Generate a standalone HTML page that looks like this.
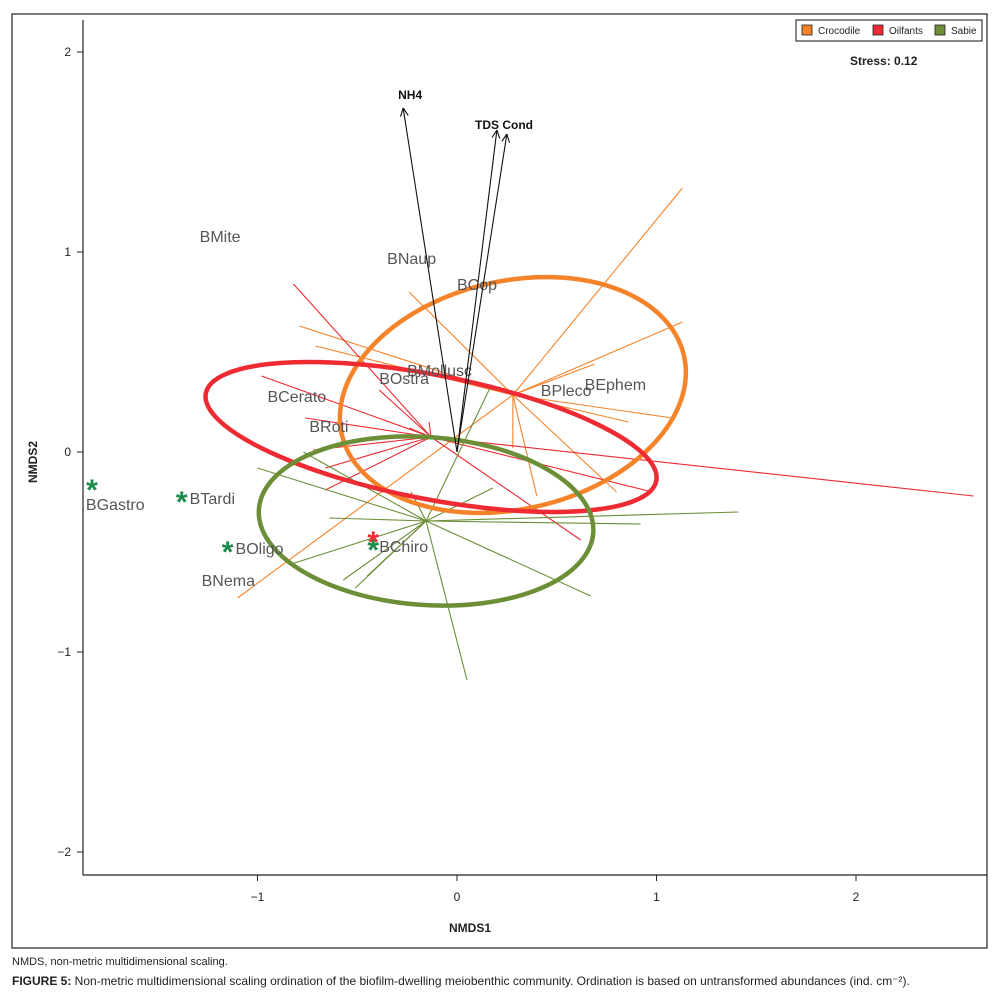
<!DOCTYPE html>
<html><head><meta charset="utf-8"><style>
body{margin:0;background:#fff;width:996px;height:999px;overflow:hidden;font-family:"Liberation Sans",sans-serif}
svg{position:absolute;left:0;top:0}
.cap{position:absolute;left:12px;font-size:11px;color:#222;white-space:nowrap}
</style></head><body>
<svg width="996" height="999" id="chart">
<rect x="12" y="14" width="975" height="934" fill="none" stroke="#222" stroke-width="1.2"/>
<g id="plot"></g>
</svg>
<div class="cap" style="top:956px">NMDS, non-metric multidimensional scaling.</div>
<div class="cap" style="top:974px;font-size:12px"><b>FIGURE 5:</b> Non-metric multidimensional scaling ordination of the biofilm-dwelling meiobenthic community. Ordination is based on untransformed abundances (ind. cm⁻²).</div>
<script>
const xTicks=[-1,0,1,2];
const yTicks=[2,1,0,-1,-2];
const groups=['Crocodile','Oilfants','Sabie'];
const groupColors=['#f5832a','#ee2a33','#6b8e37'];
const centroids=[[0.28,0.285],[-0.13,0.075],[-0.155,-0.345]];
const ellipseRadii=[[0.88,0.57,-13],[1.15,0.31,11],[0.84,0.42,4]];
const crocEnds=[[1.13,1.32],[1.13,0.65],[-0.79,0.63],[-0.71,0.53],[-0.24,0.8],[1.08,0.17],[0.86,0.15],[0.28,0.02],[0.40,-0.22],[0.80,-0.2],[0.69,0.44],[-1.1,-0.73]];
const oliEnds=[[-0.82,0.84],[-0.98,0.38],[-0.76,0.17],[-0.39,0.31],[-0.72,0.01],[-0.66,-0.08],[-0.66,-0.19],[2.59,-0.22],[0.62,-0.44],[0.98,-0.2],[-0.14,0.15],[-0.24,0.12]];
const sabEnds=[[0.05,-1.14],[0.67,-0.72],[1.41,-0.3],[0.92,-0.36],[-0.57,-0.64],[-0.83,-0.56],[-1.0,-0.08],[-0.77,0],[-0.64,-0.33],[0.18,-0.18],[0.17,0.33],[-0.51,-0.68],[-0.23,-0.2],[-0.45,-0.62]];
const vectors=['NH4','TDS','Cond'];
const vecEnds=[[-0.27,1.72],[0.2,1.61],[0.25,1.59]];
const species=['BMite','BNaup','BCop','BMollusc','BOstra','BCerato','BRoti','BPleco','BEphem','BGastro','BTardi','BOligo','BChiro','BNema'];
const speciesPos=[[-1.29,1.05],[-0.35,0.94],[0.0,0.81],[-0.25,0.38],[-0.39,0.34],[-0.95,0.25],[-0.74,0.1],[0.42,0.28],[0.64,0.31],[-1.86,-0.29],[-1.34,-0.26],[-1.11,-0.51],[-0.39,-0.50],[-1.28,-0.67]];
const stars=[[-1.83,-0.17,2],[-1.38,-0.23,2],[-1.15,-0.48,2],[-0.42,-0.47,2],[-0.42,-0.43,1]];
const X=v=>457+v*199.5, Y=v=>452-v*200;
const g=document.getElementById('plot');const NS='http://www.w3.org/2000/svg';
function mk(t,a,p){const e=document.createElementNS(NS,t);for(const k in a)e.setAttribute(k,a[k]);(p||g).appendChild(e);return e;}
let e=mk('line',{x1:83,y1:20,x2:83,y2:875,stroke:'#222','stroke-width':1.2});


e=mk('line',{x1:83,y1:875,x2:987,y2:875,stroke:'#222','stroke-width':1.2});


xTicks.forEach(t=>{mk('line',{x1:X(t),x2:X(t),y1:875,y2:881,stroke:'#222'});
 e=mk('text',{x:X(t),y:901,'text-anchor':'middle','font-size':12,fill:'#222'});e.textContent=t<0?'−'+(-t):t;
 
 });
yTicks.forEach(t=>{mk('line',{x1:77,x2:83,y1:Y(t),y2:Y(t),stroke:'#222'});
 e=mk('text',{x:71,y:Y(t)+4,'text-anchor':'end','font-size':12,fill:'#222'});e.textContent=t<0?'−'+(-t):t;
 
 });
e=mk('text',{x:470,y:932,'text-anchor':'middle','font-size':12,'font-weight':'bold',fill:'#222'});e.textContent='NMDS1';


e=mk('text',{x:0,y:0,'text-anchor':'middle','font-size':12,'font-weight':'bold',fill:'#222',transform:'translate(37,462) rotate(-90)'});e.textContent='NMDS2';


[crocEnds,oliEnds,sabEnds].forEach((ends,i)=>{ends.forEach(p=>{
 e=mk('line',{x1:X(centroids[i][0]),y1:Y(centroids[i][1]),x2:X(p[0]),y2:Y(p[1]),stroke:groupColors[i],'stroke-width':1.1});
 
 });});
centroids.forEach((c,i)=>{const r=ellipseRadii[i];
 e=mk('ellipse',{cx:X(c[0]),cy:Y(c[1]),rx:r[0]*199.5,ry:r[1]*200,fill:'none',stroke:groupColors[i],'stroke-width':4.5,transform:`rotate(${r[2]} ${X(c[0])} ${Y(c[1])})`});
 
 });
species.forEach((s,i)=>{e=mk('text',{x:X(speciesPos[i][0]),y:Y(speciesPos[i][1]),'font-size':16,fill:'#555'});e.textContent=s;
 
 });
stars.forEach(s=>{e=mk('text',{x:X(s[0]),y:Y(s[1])+14,'text-anchor':'middle','font-size':30,'font-weight':'bold',fill:s[2]==2?'#1a8a4a':'#ee2a33'});e.textContent='*';
 
 });
vecEnds.forEach((v,i)=>{const x2=X(v[0]),y2=Y(v[1]),x1=X(0),y1=Y(0);
 e=mk('line',{x1,y1,x2,y2,stroke:'#111','stroke-width':1.1});
 
 
 const a=Math.atan2(y2-y1,x2-x1);
 [0.45,-0.45].forEach(d=>mk('line',{x1:x2,y1:y2,x2:x2-9*Math.cos(a+d),y2:y2-9*Math.sin(a+d),stroke:'#111','stroke-width':1.1}));});
e=mk('text',{x:X(vecEnds[0][0])-5,y:Y(vecEnds[0][1])-9,'font-size':12,'font-weight':'bold',fill:'#111'});e.textContent='NH4';


e=mk('text',{x:475,y:129,'font-size':12,'font-weight':'bold',fill:'#111'});e.textContent='TDS Cond';


e=mk('rect',{x:796,y:20,width:186,height:21,fill:'#fff',stroke:'#111','stroke-width':1});


const lx=[802,873,935];
groups.forEach((gname,i)=>{mk('rect',{x:lx[i],y:25,width:10,height:10,fill:groupColors[i],stroke:'#222','stroke-width':0.8});
 e=mk('text',{x:lx[i]+16,y:34,'font-size':10,fill:'#222'});e.textContent=gname;
 
 });
e=mk('text',{x:850,y:65,'font-size':12,'font-weight':'bold',fill:'#222'});e.textContent='Stress: 0.12';


</script>
</body></html>
